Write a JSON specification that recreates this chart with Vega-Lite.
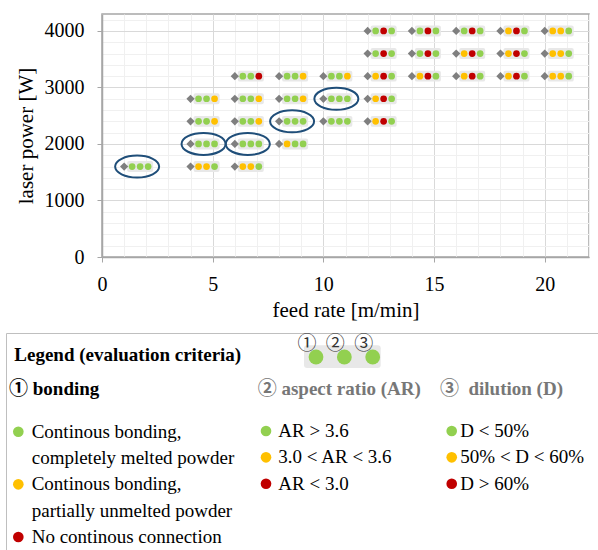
{
  "$schema": "https://vega.github.io/schema/vega-lite/v6.json",
  "padding": {"left": 5, "top": 8, "right": 0, "bottom": 0},
  "background": "white",
  "config": {"font": "Liberation Serif", "view": {"stroke": null}},
  "datasets": {
    "runs": [
      {"feed": 1, "power": 1600, "bonding": "good", "ar": "good", "dilution": "good", "circled": true},
      {"feed": 4, "power": 1600, "bonding": "medium", "ar": "medium", "dilution": "good", "circled": false},
      {"feed": 6, "power": 1600, "bonding": "medium", "ar": "medium", "dilution": "good", "circled": false},
      {"feed": 4, "power": 2000, "bonding": "good", "ar": "good", "dilution": "good", "circled": true},
      {"feed": 6, "power": 2000, "bonding": "good", "ar": "good", "dilution": "good", "circled": true},
      {"feed": 8, "power": 2000, "bonding": "medium", "ar": "good", "dilution": "good", "circled": false},
      {"feed": 4, "power": 2400, "bonding": "good", "ar": "good", "dilution": "medium", "circled": false},
      {"feed": 6, "power": 2400, "bonding": "good", "ar": "good", "dilution": "medium", "circled": false},
      {"feed": 8, "power": 2400, "bonding": "good", "ar": "good", "dilution": "good", "circled": true},
      {"feed": 10, "power": 2400, "bonding": "good", "ar": "good", "dilution": "good", "circled": false},
      {"feed": 12, "power": 2400, "bonding": "medium", "ar": "bad", "dilution": "good", "circled": false},
      {"feed": 4, "power": 2800, "bonding": "good", "ar": "good", "dilution": "medium", "circled": false},
      {"feed": 6, "power": 2800, "bonding": "good", "ar": "good", "dilution": "medium", "circled": false},
      {"feed": 8, "power": 2800, "bonding": "good", "ar": "good", "dilution": "medium", "circled": false},
      {"feed": 10, "power": 2800, "bonding": "good", "ar": "good", "dilution": "good", "circled": true},
      {"feed": 12, "power": 2800, "bonding": "medium", "ar": "bad", "dilution": "good", "circled": false},
      {"feed": 6, "power": 3200, "bonding": "good", "ar": "good", "dilution": "bad", "circled": false},
      {"feed": 8, "power": 3200, "bonding": "good", "ar": "good", "dilution": "medium", "circled": false},
      {"feed": 10, "power": 3200, "bonding": "good", "ar": "good", "dilution": "medium", "circled": false},
      {"feed": 12, "power": 3200, "bonding": "medium", "ar": "bad", "dilution": "good", "circled": false},
      {"feed": 14, "power": 3200, "bonding": "medium", "ar": "bad", "dilution": "good", "circled": false},
      {"feed": 16, "power": 3200, "bonding": "medium", "ar": "bad", "dilution": "good", "circled": false},
      {"feed": 18, "power": 3200, "bonding": "medium", "ar": "bad", "dilution": "good", "circled": false},
      {"feed": 20, "power": 3200, "bonding": "medium", "ar": "medium", "dilution": "good", "circled": false},
      {"feed": 12, "power": 3600, "bonding": "good", "ar": "bad", "dilution": "good", "circled": false},
      {"feed": 14, "power": 3600, "bonding": "good", "ar": "bad", "dilution": "good", "circled": false},
      {"feed": 16, "power": 3600, "bonding": "medium", "ar": "bad", "dilution": "good", "circled": false},
      {"feed": 18, "power": 3600, "bonding": "medium", "ar": "bad", "dilution": "good", "circled": false},
      {"feed": 20, "power": 3600, "bonding": "medium", "ar": "medium", "dilution": "good", "circled": false},
      {"feed": 12, "power": 4000, "bonding": "good", "ar": "bad", "dilution": "good", "circled": false},
      {"feed": 14, "power": 4000, "bonding": "good", "ar": "bad", "dilution": "good", "circled": false},
      {"feed": 16, "power": 4000, "bonding": "good", "ar": "bad", "dilution": "good", "circled": false},
      {"feed": 18, "power": 4000, "bonding": "medium", "ar": "bad", "dilution": "good", "circled": false},
      {"feed": 20, "power": 4000, "bonding": "medium", "ar": "medium", "dilution": "good", "circled": false}
    ],
    "criteria": [
      {"criterion": "bonding", "rank": 1, "rating": "good", "label": ["Continous bonding,", "completely melted powder"]},
      {"criterion": "bonding", "rank": 2, "rating": "medium", "label": ["Continous bonding,", "\u00a0partially unmelted powder"]},
      {"criterion": "bonding", "rank": 3, "rating": "bad", "label": ["No continous connection"]},
      {"criterion": "AR", "rank": 1, "rating": "good", "label": ["AR > 3.6"]},
      {"criterion": "AR", "rank": 2, "rating": "medium", "label": ["3.0 < AR < 3.6"]},
      {"criterion": "AR", "rank": 3, "rating": "bad", "label": ["AR < 3.0"]},
      {"criterion": "D", "rank": 1, "rating": "good", "label": ["D < 50%"]},
      {"criterion": "D", "rank": 2, "rating": "medium", "label": ["50% < D < 60%"]},
      {"criterion": "D", "rank": 3, "rating": "bad", "label": ["D > 60%"]}
    ]
  },
  "spacing": 11,
  "vconcat": [
    {
      "spacing": 7,
      "hconcat": [
        {"width": 1, "height": 1, "data": {"values": []}, "mark": "point", "encoding": {}},
        {
          "width": 487,
          "height": 243,
          "view": {"stroke": "#a6a6a6", "strokeWidth": 1.5},
          "data": {"name": "runs"},
          "encoding": {
            "x": {
              "field": "feed", "type": "quantitative", "title": "feed rate [m/min]",
              "scale": {"domain": [0, 22], "nice": false, "zero": false},
              "axis": {
                "values": [0,1,2,3,4,5,6,7,8,9,10,11,12,13,14,15,16,17,18,19,20,21,22],
                "format": "d",
                "labelExpr": "datum.value % 5 === 0 ? datum.label : ''",
                "grid": true,
                "gridColor": {"condition": {"test": "datum.value % 5 === 0", "value": "#d9d9d9"}, "value": "#f0f0f0"},
                "gridWidth": 1,
                "tickSize": 5,
                "tickColor": "#a6a6a6",
                "tickOpacity": {"condition": {"test": "datum.value % 5 === 0", "value": 1}, "value": 0},
                "domainColor": "#a6a6a6",
                "domainWidth": 1.5,
                "labelFontSize": 20,
                "labelColor": "#000000",
                "labelPadding": 12,
                "labelFlush": false,
                "labelOverlap": false,
                "titleFontSize": 21,
                "titleFontWeight": "normal",
                "titleColor": "#000000",
                "titlePadding": 5
              }
            },
            "y": {
              "field": "power", "type": "quantitative", "title": "laser power [W]",
              "scale": {"domain": [0, 4300], "nice": false, "zero": false},
              "axis": {
                "values": [0,200,400,600,800,1000,1200,1400,1600,1800,2000,2200,2400,2600,2800,3000,3200,3400,3600,3800,4000,4200],
                "format": "d",
                "labelExpr": "datum.value % 1000 === 0 ? datum.label : ''",
                "grid": true,
                "gridColor": {"condition": {"test": "datum.value % 1000 === 0", "value": "#d9d9d9"}, "value": "#f0f0f0"},
                "gridWidth": 1,
                "tickSize": 5,
                "tickColor": "#a6a6a6",
                "tickOpacity": {"condition": {"test": "datum.value % 1000 === 0", "value": 1}, "value": 0},
                "domainColor": "#a6a6a6",
                "domainWidth": 1.5,
                "labelFontSize": 20,
                "labelColor": "#000000",
                "labelPadding": 13,
                "labelFlush": false,
                "labelOverlap": false,
                "titleFontSize": 21,
                "titleFontWeight": "normal",
                "titleColor": "#000000",
                "titlePadding": 8
              }
            }
          },
          "layer": [
            {
              "transform": [{"filter": "datum.circled"}],
              "mark": {"type": "point", "shape": "M-1,0C-1,-0.276 -0.552,-0.5 0,-0.5C0.552,-0.5 1,-0.276 1,0C1,0.276 0.552,0.5 0,0.5C-0.552,0.5 -1,0.276 -1,0Z", "size": 1936, "filled": false, "color": "#1f4e79", "strokeWidth": 2, "opacity": 1, "xOffset": 13}
            },
            {
              "mark": {"type": "point", "shape": "M-0.85,-0.42L0.85,-0.42Q1,-0.42 1,-0.27L1,0.27Q1,0.42 0.85,0.42L-0.85,0.42Q-1,0.42 -1,0.27L-1,-0.27Q-1,-0.42 -0.85,-0.42Z", "size": 676, "filled": true, "color": "#e8e8e8", "strokeWidth": 0, "opacity": 1, "xOffset": 16}
            },
            {
              "mark": {"type": "point", "shape": "diamond", "size": 68, "filled": true, "color": "#7f7f7f", "opacity": 1}
            },
            {
              "mark": {"type": "circle", "size": 45, "opacity": 1, "xOffset": 8},
              "encoding": {"color": {"field": "bonding", "type": "nominal", "scale": {"domain": ["good", "medium", "bad"], "range": ["#92d050", "#ffc000", "#c00000"]}, "legend": null}}
            },
            {
              "mark": {"type": "circle", "size": 45, "opacity": 1, "xOffset": 16},
              "encoding": {"color": {"field": "ar", "type": "nominal", "scale": {"domain": ["good", "medium", "bad"], "range": ["#92d050", "#ffc000", "#c00000"]}, "legend": null}}
            },
            {
              "mark": {"type": "circle", "size": 45, "opacity": 1, "xOffset": 24},
              "encoding": {"color": {"field": "dilution", "type": "nominal", "scale": {"domain": ["good", "medium", "bad"], "range": ["#92d050", "#ffc000", "#c00000"]}, "legend": null}}
            }
          ]
        }
      ]
    },
    {
      "width": 592,
      "height": 218,
      "view": {"stroke": "#bfbfbf", "strokeWidth": 1},
      "resolve": {"scale": {"x": "independent", "y": "independent"}},
      "layer": [
        {
          "layer": [
            {
              "data": {"values": [{"t": "Legend (evaluation criteria)"}]},
              "mark": {"type": "text", "align": "left", "baseline": "middle", "fontSize": 19, "fontWeight": "bold", "color": "#000000"},
              "encoding": {
                "text": {"field": "t"},
                "x": {"datum": 1.4, "type": "quantitative", "scale": {"domain": [0, 100], "nice": false}, "axis": null},
                "y": {"datum": 10.09, "type": "quantitative", "scale": {"domain": [0, 100], "nice": false, "reverse": true}, "axis": null}
              }
            },
            {
              "data": {"values": [{"t": "\u2460 bonding"}]},
              "mark": {"type": "text", "align": "left", "baseline": "middle", "fontSize": 19, "fontWeight": "bold", "font": "Liberation Serif, Noto Sans CJK JP", "color": "#000000"},
              "encoding": {
                "text": {"field": "t"},
                "x": {"datum": 0.51, "type": "quantitative"},
                "y": {"datum": 25.69, "type": "quantitative"}
              }
            },
            {
              "data": {"values": [{"t": "\u2461 aspect ratio (AR)"}]},
              "mark": {"type": "text", "align": "left", "baseline": "middle", "fontSize": 19, "fontWeight": "bold", "font": "Liberation Serif, Noto Sans CJK JP", "color": "#777777"},
              "encoding": {
                "text": {"field": "t"},
                "x": {"datum": 42.52, "type": "quantitative"},
                "y": {"datum": 25.69, "type": "quantitative"}
              }
            },
            {
              "data": {"values": [{"t": "\u2462\u00a0 dilution (D)"}]},
              "mark": {"type": "text", "align": "left", "baseline": "middle", "fontSize": 19, "fontWeight": "bold", "font": "Liberation Serif, Noto Sans CJK JP", "color": "#777777"},
              "encoding": {
                "text": {"field": "t"},
                "x": {"datum": 73.31, "type": "quantitative"},
                "y": {"datum": 25.69, "type": "quantitative"}
              }
            }
          ]
        },
        {
          "data": {"values": [{"n": 1, "digit": "\u2460"}, {"n": 2, "digit": "\u2461"}, {"n": 3, "digit": "\u2462"}]},
          "encoding": {
            "x": {"field": "n", "type": "quantitative", "scale": {"domain": [-9.935, 10.947], "nice": false, "zero": false}, "axis": null}
          },
          "layer": [
            {
              "transform": [{"filter": "datum.n === 2"}],
              "mark": {"type": "point", "shape": "M-0.92,-0.296L0.92,-0.296Q1,-0.296 1,-0.218L1,0.218Q1,0.296 0.92,0.296L-0.92,0.296Q-1,0.296 -1,0.218L-1,-0.218Q-1,-0.296 -0.92,-0.296Z", "size": 5883, "filled": true, "color": "#e8e8e8", "strokeWidth": 0, "opacity": 1, "xOffset": -2},
              "encoding": {"y": {"datum": 10.8, "type": "quantitative", "scale": {"domain": [0, 100], "nice": false, "reverse": true}, "axis": null}}
            },
            {
              "mark": {"type": "circle", "size": 219, "opacity": 1, "color": "#92d050"},
              "encoding": {"y": {"datum": 11.0, "type": "quantitative"}}
            },
            {
              "mark": {"type": "text", "align": "center", "baseline": "middle", "fontSize": 19, "font": "Noto Sans CJK JP", "color": "#333333", "dx": -9},
              "encoding": {"text": {"field": "digit"}, "y": {"datum": 4.91, "type": "quantitative"}}
            }
          ]
        },
        {
          "data": {"name": "criteria"},
          "transform": [{"filter": "datum.criterion === 'bonding'"}],
          "encoding": {
            "y": {"field": "rank", "type": "quantitative", "scale": {"domain": [-0.8746, 3.2659], "nice": false, "zero": false, "reverse": true}, "axis": null}
          },
          "layer": [
            {
              "mark": {"type": "circle", "size": 113, "opacity": 1},
              "encoding": {
                "x": {"datum": 2.08, "type": "quantitative", "scale": {"domain": [0, 100], "nice": false}, "axis": null},
                "color": {"field": "rating", "type": "nominal", "scale": {"domain": ["good", "medium", "bad"], "range": ["#92d050", "#ffc000", "#c00000"]}, "legend": null}
              }
            },
            {
              "mark": {"type": "text", "align": "left", "baseline": "alphabetic", "dy": 6, "fontSize": 19, "lineHeight": 26.7, "color": "#000000"},
              "encoding": {
                "x": {"datum": 4.34, "type": "quantitative"},
                "text": {"field": "label"}
              }
            }
          ]
        },
        {
          "data": {"name": "criteria"},
          "transform": [{"filter": "datum.criterion !== 'bonding'"}],
          "encoding": {
            "y": {"field": "rank", "type": "quantitative", "scale": {"domain": [-2.719, 5.554], "nice": false, "zero": false, "reverse": true}, "axis": null}
          },
          "layer": [
            {
              "transform": [{"filter": "datum.criterion === 'AR'"}],
              "mark": {"type": "circle", "size": 113, "opacity": 1},
              "encoding": {
                "x": {"datum": 43.92, "type": "quantitative", "scale": {"domain": [0, 100], "nice": false}, "axis": null},
                "color": {"field": "rating", "type": "nominal", "scale": {"domain": ["good", "medium", "bad"], "range": ["#92d050", "#ffc000", "#c00000"]}, "legend": null}
              }
            },
            {
              "transform": [{"filter": "datum.criterion === 'AR'"}],
              "mark": {"type": "text", "align": "left", "baseline": "alphabetic", "dy": 6, "fontSize": 19, "color": "#000000"},
              "encoding": {"x": {"datum": 46.0, "type": "quantitative"}, "text": {"field": "label"}}
            },
            {
              "transform": [{"filter": "datum.criterion === 'D'"}],
              "mark": {"type": "circle", "size": 113, "opacity": 1},
              "encoding": {
                "x": {"datum": 75.29, "type": "quantitative"},
                "color": {"field": "rating", "type": "nominal", "scale": {"domain": ["good", "medium", "bad"], "range": ["#92d050", "#ffc000", "#c00000"]}, "legend": null}
              }
            },
            {
              "transform": [{"filter": "datum.criterion === 'D'"}],
              "mark": {"type": "text", "align": "left", "baseline": "alphabetic", "dy": 6, "fontSize": 19, "color": "#000000"},
              "encoding": {"x": {"datum": 76.74, "type": "quantitative"}, "text": {"field": "label"}}
            }
          ]
        }
      ]
    }
  ]
}
